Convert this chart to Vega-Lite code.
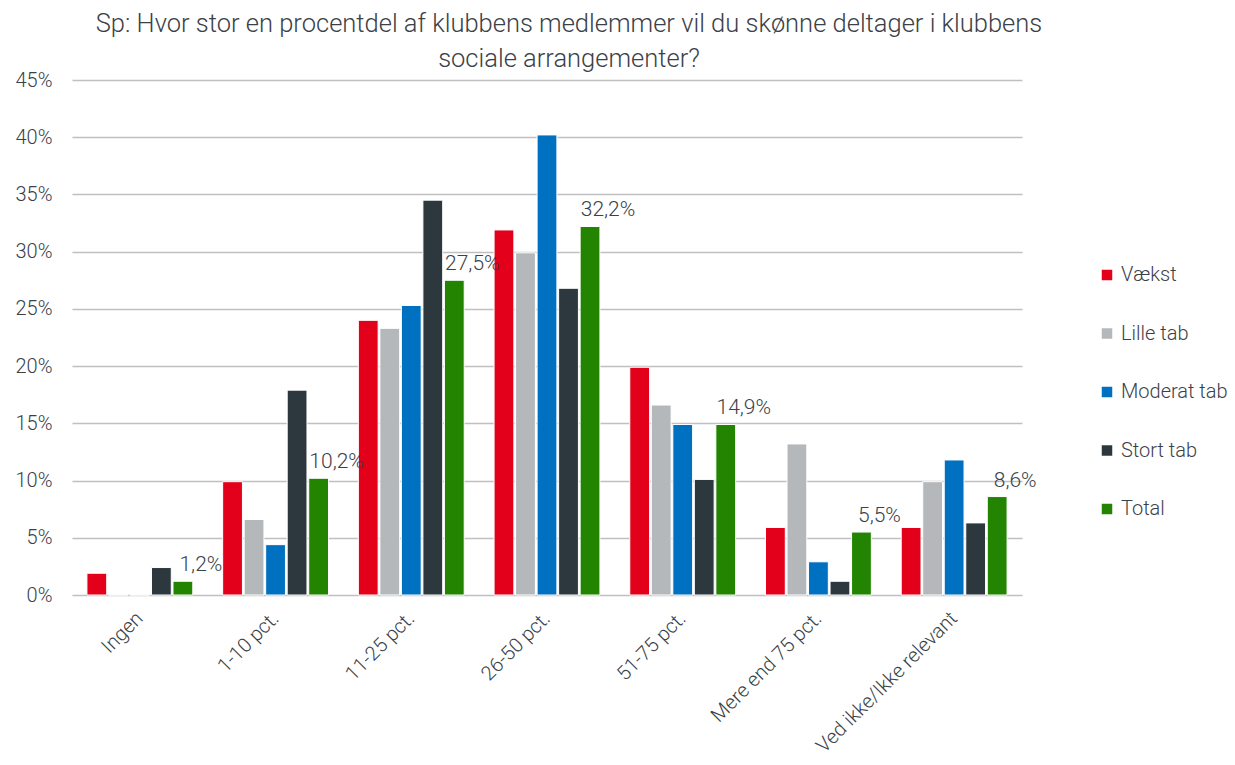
{
  "$schema": "https://vega.github.io/schema/vega-lite/v6.json",
  "width": 950,
  "height": 515,
  "autosize": {"type": "none"},
  "padding": {"left": 72, "top": 80, "right": 213, "bottom": 170},
  "background": "white",
  "title": {
    "text": ["Sp: Hvor stor en procentdel af klubbens medlemmer vil du skønne deltager i klubbens", "sociale arrangementer?"],
    "anchor": "middle",
    "dx": 22,
    "offset": -2,
    "fontSize": 25.5,
    "fontWeight": 300,
    "font": "Roboto",
    "color": "#3b4148",
    "lineHeight": 35
  },
  "config": {
    "locale": {"number": {"decimal": ",", "thousands": ".", "grouping": [3], "currency": ["", " kr"]}},
    "view": {"stroke": null},
    "font": "Roboto"
  },
  "data": {
    "values": [
      {"Kategori": "Ingen", "Serie": "Vækst", "Andel": 0.019},
      {"Kategori": "Ingen", "Serie": "Lille tab", "Andel": 0.0},
      {"Kategori": "Ingen", "Serie": "Moderat tab", "Andel": 0.0},
      {"Kategori": "Ingen", "Serie": "Stort tab", "Andel": 0.024},
      {"Kategori": "Ingen", "Serie": "Total", "Andel": 0.012},
      {"Kategori": "1-10 pct.", "Serie": "Vækst", "Andel": 0.099},
      {"Kategori": "1-10 pct.", "Serie": "Lille tab", "Andel": 0.066},
      {"Kategori": "1-10 pct.", "Serie": "Moderat tab", "Andel": 0.044},
      {"Kategori": "1-10 pct.", "Serie": "Stort tab", "Andel": 0.179},
      {"Kategori": "1-10 pct.", "Serie": "Total", "Andel": 0.102},
      {"Kategori": "11-25 pct.", "Serie": "Vækst", "Andel": 0.240},
      {"Kategori": "11-25 pct.", "Serie": "Lille tab", "Andel": 0.233},
      {"Kategori": "11-25 pct.", "Serie": "Moderat tab", "Andel": 0.253},
      {"Kategori": "11-25 pct.", "Serie": "Stort tab", "Andel": 0.345},
      {"Kategori": "11-25 pct.", "Serie": "Total", "Andel": 0.275},
      {"Kategori": "26-50 pct.", "Serie": "Vækst", "Andel": 0.319},
      {"Kategori": "26-50 pct.", "Serie": "Lille tab", "Andel": 0.299},
      {"Kategori": "26-50 pct.", "Serie": "Moderat tab", "Andel": 0.402},
      {"Kategori": "26-50 pct.", "Serie": "Stort tab", "Andel": 0.268},
      {"Kategori": "26-50 pct.", "Serie": "Total", "Andel": 0.322},
      {"Kategori": "51-75 pct.", "Serie": "Vækst", "Andel": 0.199},
      {"Kategori": "51-75 pct.", "Serie": "Lille tab", "Andel": 0.166},
      {"Kategori": "51-75 pct.", "Serie": "Moderat tab", "Andel": 0.149},
      {"Kategori": "51-75 pct.", "Serie": "Stort tab", "Andel": 0.101},
      {"Kategori": "51-75 pct.", "Serie": "Total", "Andel": 0.149},
      {"Kategori": "Mere end 75 pct.", "Serie": "Vækst", "Andel": 0.059},
      {"Kategori": "Mere end 75 pct.", "Serie": "Lille tab", "Andel": 0.132},
      {"Kategori": "Mere end 75 pct.", "Serie": "Moderat tab", "Andel": 0.029},
      {"Kategori": "Mere end 75 pct.", "Serie": "Stort tab", "Andel": 0.012},
      {"Kategori": "Mere end 75 pct.", "Serie": "Total", "Andel": 0.055},
      {"Kategori": "Ved ikke/Ikke relevant", "Serie": "Vækst", "Andel": 0.059},
      {"Kategori": "Ved ikke/Ikke relevant", "Serie": "Lille tab", "Andel": 0.099},
      {"Kategori": "Ved ikke/Ikke relevant", "Serie": "Moderat tab", "Andel": 0.118},
      {"Kategori": "Ved ikke/Ikke relevant", "Serie": "Stort tab", "Andel": 0.063},
      {"Kategori": "Ved ikke/Ikke relevant", "Serie": "Total", "Andel": 0.086}
    ]
  },
  "encoding": {
    "x": {
      "field": "Kategori",
      "type": "nominal",
      "sort": null,
      "scale": {"paddingInner": 0.22, "paddingOuter": 0.11},
      "axis": {
        "title": null,
        "labelAngle": -45,
        "labelAlign": "right",
        "labelBaseline": "middle",
        "labelFontSize": 20,
        "labelFontWeight": 300,
        "labelColor": "#3b4148",
        "labelPadding": 20,
        "ticks": false,
        "domain": false,
        "labelLimit": 300
      }
    },
    "xOffset": {
      "field": "Serie",
      "type": "nominal",
      "sort": ["Vækst", "Lille tab", "Moderat tab", "Stort tab", "Total"],
      "scale": {"paddingInner": 0.08}
    },
    "y": {
      "field": "Andel",
      "type": "quantitative",
      "scale": {"domain": [0, 0.45]},
      "axis": {
        "title": null,
        "format": ".0%",
        "values": [0, 0.05, 0.1, 0.15, 0.2, 0.25, 0.3, 0.35, 0.4, 0.45],
        "labelFontSize": 20,
        "labelFontWeight": 300,
        "labelColor": "#3b4148",
        "labelPadding": 20,
        "ticks": false,
        "domain": false,
        "gridColor": "#c0c0c0",
        "gridWidth": 1.6
      }
    }
  },
  "layer": [
    {
      "mark": {"type": "bar", "stroke": "white", "strokeWidth": 1},
      "encoding": {
        "color": {
          "field": "Serie",
          "type": "nominal",
          "sort": ["Vækst", "Lille tab", "Moderat tab", "Stort tab", "Total"],
          "scale": {
            "domain": ["Vækst", "Lille tab", "Moderat tab", "Stort tab", "Total"],
            "range": ["#e2001a", "#b5b8bb", "#0070c0", "#2d373e", "#228400"]
          },
          "legend": {
            "title": null,
            "orient": "none",
            "legendX": 1025,
            "legendY": 185,
            "symbolType": "square",
            "symbolSize": 110,
            "symbolStrokeWidth": 0,
            "labelFontSize": 20,
            "labelFontWeight": 300,
            "labelColor": "#3b4148",
            "rowPadding": 38.5,
            "labelOffset": 4
          }
        }
      }
    },
    {
      "transform": [{"filter": "datum.Serie == 'Total'"}],
      "mark": {"type": "text", "baseline": "bottom", "dy": -6, "dx": 18, "fontSize": 21, "fontWeight": 300, "color": "#3b4148"},
      "encoding": {
        "text": {"field": "Andel", "type": "quantitative", "format": ".1%"}
      }
    }
  ]
}
